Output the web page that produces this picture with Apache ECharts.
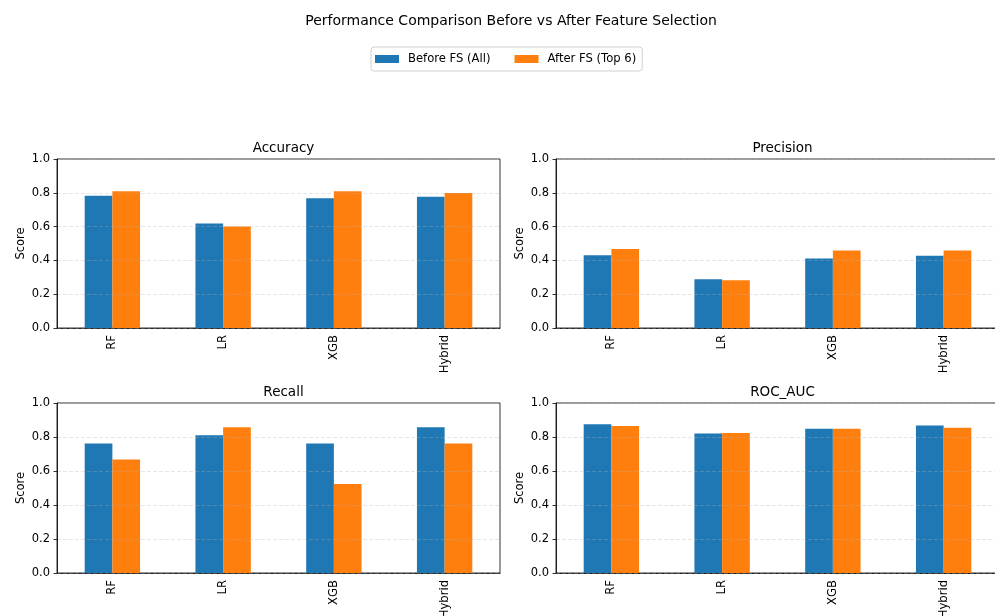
<!DOCTYPE html>
<html>
<head>
<meta charset="utf-8">
<script src="https://cdn.jsdelivr.net/npm/echarts@6/dist/echarts.min.js"></script>
<style>
  html, body { margin: 0; padding: 0; background: #fff; overflow: hidden; }
  /* canvas is a few pixels wider than the window so the right column bleeds off the edge */
  #chart { width: 1000px; height: 616px; }
</style>
</head>
<body>
<div id="chart"></div>
<script>
// Models compared
const categories = ['RF', 'LR', 'XGB', 'Hybrid'];
const seriesNames = ['Before FS (All)', 'After FS (Top 6)'];

// Scores per metric: before and after feature selection
const accuracyBefore  = [0.783, 0.618, 0.768, 0.776];
const accuracyAfter   = [0.809, 0.600, 0.809, 0.799];
const precisionBefore = [0.431, 0.289, 0.411, 0.427];
const precisionAfter  = [0.467, 0.283, 0.459, 0.459];
const recallBefore    = [0.762, 0.810, 0.762, 0.857];
const recallAfter     = [0.667, 0.857, 0.524, 0.762];
const rocBefore       = [0.875, 0.820, 0.848, 0.867];
const rocAfter        = [0.865, 0.824, 0.848, 0.855];

const yTicks = [0.0, 0.2, 0.4, 0.6, 0.8, 1.0];
const panelTitles = ['Accuracy', 'Precision', 'Recall', 'ROC_AUC'];
const panelData = [
  [accuracyBefore, accuracyAfter],
  [precisionBefore, precisionAfter],
  [recallBefore, recallAfter],
  [rocBefore, rocAfter]
];

const FONT = 'DejaVu Sans';
const COLORS = ['#1f77b4', '#ff7f0e'];

// Panel rectangles (2 x 2 layout)
const PANEL_W = 443;
const panels = [
  { left: 57,  top: 159, height: 169 },
  { left: 556, top: 159, height: 169 },
  { left: 57,  top: 403, height: 170 },
  { left: 556, top: 403, height: 170 }
];

const grids = [], xAxes = [], yAxes = [], series = [];
const titles = [{
  text: 'Performance Comparison Before vs After Feature Selection',
  left: 506, top: 9, textAlign: 'center',
  textStyle: { fontFamily: FONT, fontSize: 14, fontWeight: 'normal', color: '#000' }
}];

panels.forEach((p, i) => {
  grids.push({
    left: p.left, top: p.top, width: PANEL_W, height: p.height,
    containLabel: false, outerBoundsMode: 'none',
    show: true, borderColor: '#000', borderWidth: 0.8, backgroundColor: 'transparent'
  });
  xAxes.push({
    type: 'category', gridIndex: i, data: categories,
    axisLine: { lineStyle: { color: '#000', width: 0.8 } },
    axisTick: { alignWithLabel: true, length: 3.5, lineStyle: { color: '#000', width: 0.8 } },
    axisLabel: { rotate: 90, fontFamily: FONT, fontSize: 11.6, color: '#000', margin: 7 },
    splitLine: { show: false }
  });
  yAxes.push({
    type: 'value', gridIndex: i, min: yTicks[0], max: yTicks[yTicks.length - 1], interval: 0.2,
    z: 3,
    name: 'Score', nameLocation: 'middle', nameGap: 30, nameRotate: 90,
    nameTextStyle: { fontFamily: FONT, fontSize: 11.5, color: '#000' },
    axisLine: { show: true, lineStyle: { color: '#000', width: 0.8 } },
    axisTick: { show: true, length: 3.5, lineStyle: { color: '#000', width: 0.8 } },
    axisLabel: { fontFamily: FONT, fontSize: 11.5, color: '#000', margin: 7,
      formatter: v => v.toFixed(1) },
    splitLine: { show: true, lineStyle: { color: 'rgba(176,176,176,0.4)', type: [4, 2], width: 0.8 } }
  });
  titles.push({
    text: panelTitles[i],
    left: p.left + PANEL_W / 2, top: p.top - 23, textAlign: 'center',
    textStyle: { fontFamily: FONT, fontSize: 13.5, fontWeight: 'normal', color: '#000' }
  });
  panelData[i].forEach((vals, s) => {
    series.push({
      name: seriesNames[s], type: 'bar',
      xAxisIndex: i, yAxisIndex: i,
      data: vals,
      barWidth: '25%', barGap: '0%',
      itemStyle: { color: COLORS[s] },
      emphasis: { disabled: true }
    });
  });
});

const chart = echarts.init(document.getElementById('chart'), null, { renderer: 'canvas' });
chart.setOption({
  animation: false,
  color: COLORS,
  title: titles,
  legend: {
    data: seriesNames,
    left: 371, top: 47,
    itemWidth: 24, itemHeight: 8, itemGap: 24,
    padding: [6, 6, 6, 4],
    borderColor: '#d0d0d0', borderWidth: 1, borderRadius: 3,
    icon: 'rect',
    textStyle: { fontFamily: FONT, fontSize: 11.6, color: '#000', padding: [0, 0, 0, 4] }
  },
  grid: grids,
  xAxis: xAxes,
  yAxis: yAxes,
  series: series
});
</script>
</body>
</html>
